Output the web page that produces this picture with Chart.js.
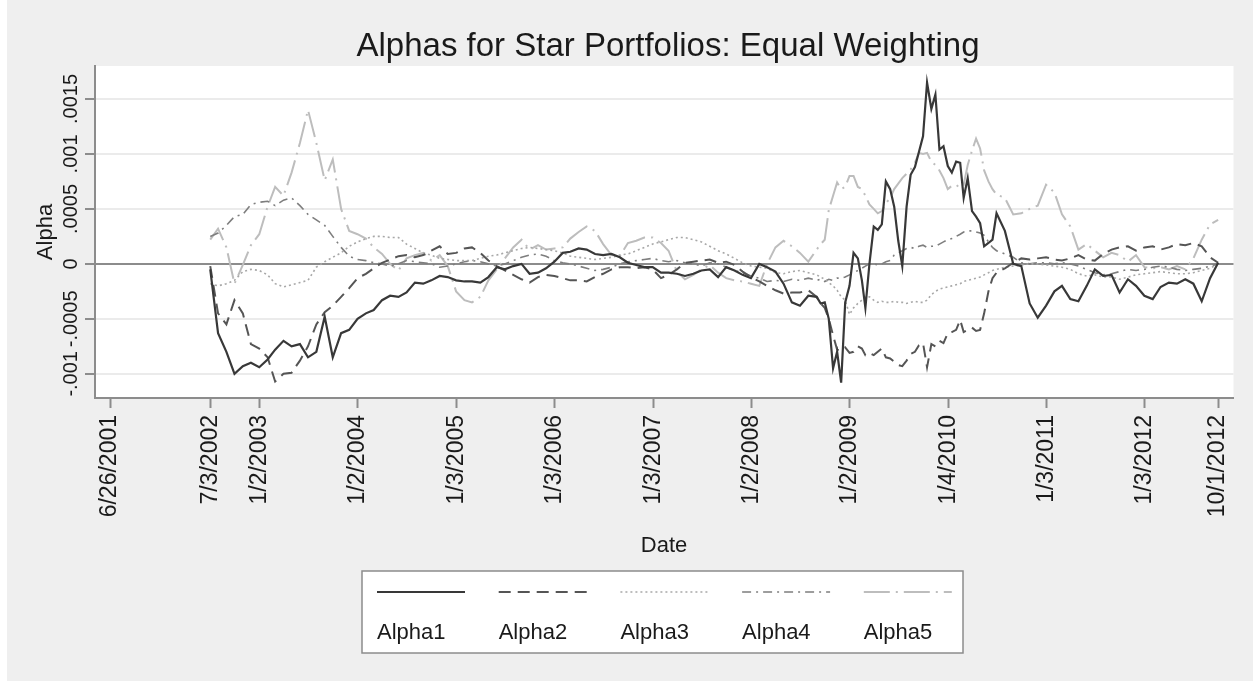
<!DOCTYPE html>
<html>
<head>
<meta charset="utf-8">
<title>Alphas for Star Portfolios: Equal Weighting</title>
<script src="https://cdn.jsdelivr.net/npm/chart.js@4.4.1/dist/chart.umd.min.js"></script>
<style>
  html, body { margin: 0; padding: 0; background: #fff; }
  #wrap { width: 1253px; height: 681px; }
</style>
</head>
<body>
<div id="wrap"><canvas id="alphaChart" width="1253" height="681"></canvas></div>
<script>
// observation dates (monthly, twice a month around the 2008-2010 swings)
const dates = [
  '2002-07-03','2002-08-01','2002-09-01','2002-10-01','2002-11-01','2002-12-01',
  '2003-01-01','2003-02-01','2003-03-01','2003-04-01','2003-05-01','2003-06-01','2003-07-01','2003-08-01','2003-09-01','2003-10-01','2003-11-01','2003-12-01',
  '2004-01-01','2004-02-01','2004-03-01','2004-04-01','2004-05-01','2004-06-01','2004-07-01','2004-08-01','2004-09-01','2004-10-01','2004-11-01','2004-12-01',
  '2005-01-01','2005-02-01','2005-03-01','2005-04-01','2005-05-01','2005-06-01','2005-07-01','2005-08-01','2005-09-01','2005-10-01','2005-11-01','2005-12-01',
  '2006-01-01','2006-02-01','2006-03-01','2006-04-01','2006-05-01','2006-06-01','2006-07-01','2006-08-01','2006-09-01','2006-10-01','2006-11-01','2006-12-01',
  '2007-01-01','2007-02-01','2007-03-01','2007-04-01','2007-05-01','2007-06-01','2007-07-01','2007-08-01','2007-09-01','2007-10-01','2007-11-01','2007-12-01',
  '2008-01-01','2008-02-01','2008-03-01','2008-04-01','2008-05-01','2008-06-01','2008-07-01','2008-08-01',
  '2008-09-01','2008-09-16','2008-10-01','2008-10-16','2008-11-01','2008-11-16','2008-12-01','2008-12-16',
  '2009-01-01','2009-01-16','2009-02-01','2009-02-16','2009-03-01','2009-03-16','2009-04-01','2009-04-16','2009-05-01','2009-05-16','2009-06-01','2009-06-16',
  '2009-07-01','2009-07-16','2009-08-01','2009-08-16','2009-09-01','2009-09-16','2009-10-01','2009-10-16','2009-11-01','2009-11-16','2009-12-01','2009-12-16',
  '2010-01-01','2010-01-16','2010-02-01','2010-02-16','2010-03-01','2010-03-16','2010-04-01','2010-04-16','2010-05-01','2010-05-16','2010-06-01','2010-06-16',
  '2010-07-01','2010-08-01','2010-09-01','2010-10-01','2010-11-01','2010-12-01',
  '2011-01-01','2011-02-01','2011-03-01','2011-04-01','2011-05-01','2011-06-01','2011-07-01','2011-08-01','2011-09-01','2011-10-01','2011-11-01','2011-12-01',
  '2012-01-01','2012-02-01','2012-03-01','2012-04-01','2012-05-01','2012-06-01','2012-07-01','2012-08-01','2012-09-01','2012-10-01'
];

// alphas, in units of 0.0001
const UNIT = 1e-4;
const alpha1 = [
  -0.5, -6.3, -8.0, -10.0, -9.3, -9.0,
  -9.4, -8.7, -7.8, -7.0, -7.5, -7.3, -8.5, -8.0, -4.8, -8.5, -6.3, -6.0,
  -5.0, -4.5, -4.2, -3.3, -2.9, -3.0, -2.6, -1.7, -1.8, -1.5, -1.1, -1.2,
  -1.5, -1.6, -1.6, -1.7, -1.2, -0.3, -0.5, -0.2, 0.0, -0.9, -0.8, -0.4,
  0.2, 1.0, 1.1, 1.4, 1.3, 0.9, 0.8, 0.9, 0.6, 0.1, -0.1, -0.3,
  -0.3, -0.8, -0.8, -0.9, -1.1, -0.9, -0.6, -0.5, -1.2, -0.3, -0.6, -1.0,
  -1.3, 0.0, -0.3, -0.7, -1.8, -3.5, -3.8, -2.9,
  -3.0, -3.6, -3.5, -5.0, -9.5, -8.0, -10.8, -3.5,
  -2.0, 1.0, 0.5, -1.5, -4.0, 0.0, 3.4, 3.1, 3.6, 7.5, 6.8, 5.2,
  2.1, -0.2, 5.2, 8.1, 8.8, 10.2, 11.6, 16.5, 14.1, 15.4, 10.4, 10.7,
  8.9, 8.3, 9.3, 9.2, 6.0, 7.8, 4.8, 4.3, 3.7, 1.6, 1.9, 2.2,
  4.6, 3.0, 0.0, -0.2, -3.6, -4.9,
  -3.8, -2.5, -2.0, -3.2, -3.4, -2.0, -0.5, -1.1, -1.0, -2.6, -1.4, -2.0,
  -2.9, -3.2, -2.1, -1.7, -1.8, -1.4, -1.8, -3.4, -1.3, 0.1
];
const alpha2 = [
  -0.2, -4.5, -5.5, -3.3, -4.5, -7.3,
  -7.7, -8.5, -10.7, -10.0, -9.9, -8.8, -7.5, -5.5, -4.4, -3.8, -3.0, -2.2,
  -1.3, -0.9, -0.4, 0.1, 0.4, 0.7, 0.8, 0.6, 0.8, 1.2, 1.6, 0.9,
  1.0, 1.4, 1.5, 1.0, 0.3, -0.2, -0.6, -1.0, -1.4, -1.7, -1.2, -1.0,
  -1.1, -1.3, -1.5, -1.5, -1.6, -1.2, -0.9, -0.5, -0.3, -0.3, -0.4, -0.3,
  -0.5, -1.3, -1.0, -0.5, 0.1, 0.2, 0.3, 0.4, 0.1, 0.2, -0.1, -0.7,
  -1.2, -1.6, -2.0, -2.4, -2.7, -2.6, -2.6, -2.4,
  -3.0, -3.6, -4.0, -5.0, -6.5, -7.8, -7.9, -7.6,
  -8.1, -8.0, -7.5, -7.7, -8.3, -8.1, -8.3, -8.0, -7.7, -8.5, -8.6, -8.9,
  -9.2, -9.3, -8.8, -8.2, -8.0, -7.4, -7.2, -9.4, -7.3, -7.5, -7.0, -7.2,
  -6.3, -6.2, -6.0, -5.1, -6.2, -6.0, -5.8, -6.1, -6.0, -4.5, -2.5, -1.3,
  -0.8, -0.4, 0.1, 0.5, 0.4, 0.5,
  0.6, 0.4, 0.3, 0.5, 0.8, 0.4, 0.3, 0.9, 1.3, 1.5, 1.6, 1.2,
  1.5, 1.6, 1.3, 1.5, 1.8, 1.7, 1.9, 1.6, 0.6, 0.1
];
const alpha3 = [
  -1.8, -2.0, -1.8, -1.5, -0.7, -0.5,
  -0.6, -1.0, -1.8, -2.1, -1.9, -1.7, -1.5, -0.3, 0.2, 0.6, 1.0, 1.6,
  2.0, 2.3, 2.5, 2.5, 2.4, 2.4, 1.8, 1.4, 1.0, 0.8, 0.5, 0.4,
  0.3, 0.3, 0.3, 0.5, 0.7, 0.8, 1.0, 1.2, 1.4, 1.5, 1.4, 1.3,
  1.2, 1.0, 0.7, 0.6, 0.5, 0.4, 0.5, 0.6, 0.8, 0.9, 1.2, 1.5,
  1.8, 2.0, 2.2, 2.4, 2.4, 2.2, 2.0, 1.6, 1.2, 0.9, 0.5, 0.1,
  -0.2, -0.3, -0.4, -0.8, -0.9, -0.7, -0.6, -0.8,
  -1.0, -1.2, -1.4, -1.7, -2.0, -2.4, -3.0, -3.3,
  -4.6, -4.0, -3.6, -3.3, -3.0, -3.0, -3.3, -3.5, -3.4, -3.5, -3.5, -3.4,
  -3.5, -3.5, -3.6, -3.5, -3.4, -3.5, -3.5, -3.3, -2.8, -2.5, -2.3, -2.2,
  -2.1, -2.0, -1.9, -1.8, -1.6, -1.5, -1.4, -1.3, -1.2, -1.0, -0.8, -0.6,
  -0.5, -0.3, -0.2, -0.1, 0.0, 0.0,
  -0.1, -0.2, -0.3, -0.5, -0.9, -1.1, -1.0, -1.2, -1.2, -1.4, -1.2, -1.0,
  -0.9, -0.8, -0.7, -0.8, -0.9, -0.9, -0.8, -0.6, -0.4, 0.0
];
const alpha4 = [
  2.5, 2.8, 3.5, 4.3, 4.5, 5.4,
  5.6, 5.7, 5.3, 5.8, 6.0, 5.3, 4.5, 4.0, 3.5, 2.5, 1.5, 0.7,
  0.4, 0.3, 0.1, 0.0, -0.2, 0.0, 0.3, 0.2, 0.1, 0.0, -0.3, -0.2,
  0.0, 0.2, 0.3, 0.2, 0.0, -0.2, 0.0, 0.3, 0.6, 0.8, 0.9, 0.7,
  0.3, 0.1, 0.0, -0.2, -0.4, -0.6, -0.5, -0.3, 0.0, 0.2, 0.3, 0.4,
  0.5, 0.3, 0.2, 0.3, 0.1, 0.0, -0.2, 0.1, 0.0, -0.3, -0.6, -0.8,
  -1.1, -1.3, -1.6, -1.5, -1.6, -1.4, -1.5, -1.3,
  -1.5, -1.4, -1.6, -1.4, -1.5, -1.3, -1.3, -1.2,
  -1.0, -0.8, -0.6, -0.4, -0.2, 0.0, 0.0, -0.1, 0.0, 0.2, 0.3, 0.8,
  1.0, 1.2, 1.4, 1.5, 1.4, 1.6, 1.7, 1.5, 1.6, 1.6, 1.8, 2.0,
  2.2, 2.3, 2.5, 2.7, 2.9, 3.0, 3.0, 2.9, 2.8, 2.6, 2.0, 1.5,
  1.2, 0.9, 0.6, 0.1, 0.0, 0.1,
  0.1, 0.0, 0.1, 0.0, -0.2, -0.5, -0.8, -1.0, -0.9, -0.7, -0.5, -0.6,
  -0.5, -0.3, -0.2, -0.3, -0.5, -0.6, -0.5, -0.4, -0.2, 0.0
];
const alpha5 = [
  2.2, 3.2, 1.5, -1.8, -0.1, 1.7,
  2.7, 5.2, 7.0, 6.2, 8.3, 11.0, 14.0, 11.0, 7.6, 9.5, 5.0, 3.0,
  2.7, 2.3, 1.5, 0.9, 0.0, -0.6, 0.5, 0.8, 1.0, 0.3, 0.8, -0.2,
  -2.5, -3.3, -3.5, -3.0, -1.5, -0.5, 0.5, 1.5, 2.2, 1.3, 1.7, 1.3,
  1.4, 1.5, 2.3, 2.9, 3.4, 3.0, 1.8, 0.8, 0.7, 1.9, 2.1, 2.4,
  2.4, 1.9, 1.2, -0.7, -1.4, -1.0, -0.5, -0.1, -0.8, -1.3, -1.5, -1.6,
  -1.8, -2.0, 0.0, 1.5, 2.1, 1.6, 1.0, 0.2,
  1.3, 1.8, 2.2, 4.9, 6.2, 7.4, 6.8, 7.0,
  8.0, 8.0, 7.0, 6.8, 6.2, 5.4, 5.0, 4.6, 4.8, 5.5, 6.0, 6.8,
  7.3, 7.8, 8.2, 8.6, 9.2, 10.1, 10.0, 10.1, 9.3, 9.0, 8.5, 7.8,
  6.8, 7.1, 7.0, 7.3, 7.2, 9.0, 10.3, 11.4, 10.5, 8.5, 7.5, 6.8,
  6.3, 6.0, 4.5, 4.6, 5.0, 5.3,
  7.2, 6.5, 4.5, 3.4, 1.3, 1.8, 1.2, 0.6, 1.0, 0.8, 0.2, 0.8,
  -0.3, -0.4, -0.3, -0.5, -0.2, -0.5, 0.5, 2.2, 3.6, 4.0
];

const seriesNames = ['Alpha1', 'Alpha2', 'Alpha3', 'Alpha4', 'Alpha5'];

// axis ticks
const xTickDates = ['2001-06-26','2002-07-03','2003-01-02','2004-01-02','2005-01-03','2006-01-03',
  '2007-01-03','2008-01-02','2009-01-02','2010-01-04','2011-01-03','2012-01-03','2012-10-01'];
const xTickLabels = ['6/26/2001','7/3/2002','1/2/2003','1/2/2004','1/3/2005','1/3/2006',
  '1/3/2007','1/2/2008','1/2/2009','1/4/2010','1/3/2011','1/3/2012','10/1/2012'];
const yTickValues = [-0.001, -0.0005, 0, 0.0005, 0.001, 0.0015];
const yTickLabels = ['-.001', '-.0005', '0', '.0005', '.001', '.0015'];

const FONT = '"Liberation Sans", Arial, sans-serif';
const INK = '#1a1a1a';

function dayNum(s) {
  const p = s.split('-').map(Number);
  return Date.UTC(p[0], p[1] - 1, p[2]) / 86400000;
}

[alpha1, alpha2, alpha3, alpha4, alpha5].forEach((a, i) => {
  if (a.length !== dates.length) console.warn(seriesNames[i] + ' has ' + a.length + ' values, expected ' + dates.length);
});

const xs = dates.map(dayNum);
const toPoints = vals => vals.map((v, i) => ({ x: xs[i], y: v * UNIT }));

const styles = [
  { color: '#383838', width: 2.2, dash: [] },
  { color: '#555555', width: 2, dash: [12, 7] },
  { color: '#a8a8a8', width: 1.6, dash: [2, 3] },
  { color: '#7e7e7e', width: 1.6, dash: [9, 5, 2, 5] },
  { color: '#bdbdbd', width: 2, dash: [26, 6, 2, 6] }
];
const seriesData = [alpha1, alpha2, alpha3, alpha4, alpha5];

const datasets = seriesData.map((vals, i) => ({
  label: seriesNames[i],
  data: toPoints(vals),
  borderColor: styles[i].color,
  borderWidth: styles[i].width,
  borderDash: styles[i].dash,
  pointRadius: 0,
  tension: 0,
  fill: false
}));

// background, rotated y labels, titles and the boxed legend
const stataLook = {
  id: 'stataLook',
  beforeDraw(chart) {
    const { ctx, chartArea: a } = chart;
    ctx.save();
    ctx.fillStyle = '#ffffff';
    ctx.fillRect(0, 0, chart.width, chart.height);
    ctx.fillStyle = '#efefef';
    ctx.fillRect(7, 0, chart.width - 7, chart.height);
    ctx.fillStyle = '#ffffff';
    ctx.fillRect(a.left, a.top, a.right - a.left, a.bottom - a.top);
    ctx.restore();
  },
  afterDraw(chart) {
    const { ctx } = chart;
    const ys = chart.scales.y;
    ctx.save();
    ctx.fillStyle = INK;

    // y tick labels, turned like the original
    ctx.font = '20px ' + FONT;
    ctx.textAlign = 'center';
    ctx.textBaseline = 'middle';
    yTickValues.forEach((v, i) => {
      ctx.save();
      ctx.translate(71, ys.getPixelForValue(v));
      ctx.rotate(-Math.PI / 2);
      ctx.fillText(yTickLabels[i], 0, 0);
      ctx.restore();
    });

    // axis titles
    ctx.font = '22px ' + FONT;
    ctx.save();
    ctx.translate(46, 232);
    ctx.rotate(-Math.PI / 2);
    ctx.fillText('Alpha', 0, 0);
    ctx.restore();
    ctx.textBaseline = 'alphabetic';
    ctx.fillText('Date', 664, 552);

    // main title
    ctx.font = '33px ' + FONT;
    ctx.fillText('Alphas for Star Portfolios: Equal Weighting', 668, 56);

    // legend box
    const box = { x: 362, y: 571, w: 601, h: 82 };
    ctx.fillStyle = '#ffffff';
    ctx.fillRect(box.x, box.y, box.w, box.h);
    ctx.strokeStyle = '#8c8c8c';
    ctx.lineWidth = 1.5;
    ctx.strokeRect(box.x, box.y, box.w, box.h);

    ctx.font = '22px ' + FONT;
    ctx.textAlign = 'left';
    chart.data.datasets.forEach((ds, i) => {
      const x0 = 377 + i * 121.7;
      ctx.save();
      ctx.strokeStyle = ds.borderColor;
      ctx.lineWidth = ds.borderWidth;
      ctx.setLineDash(ds.borderDash);
      ctx.beginPath();
      ctx.moveTo(x0, 592);
      ctx.lineTo(x0 + 88, 592);
      ctx.stroke();
      ctx.restore();
      ctx.fillStyle = INK;
      ctx.fillText(ds.label, x0, 639);
    });
    ctx.restore();
  }
};

const ctx = document.getElementById('alphaChart').getContext('2d');

new Chart(ctx, {
  type: 'line',
  data: { datasets: datasets },
  options: {
    responsive: false,
    animation: false,
    layout: { padding: { top: 66, right: 19, left: 0, bottom: 0 } },
    plugins: {
      legend: { display: false },
      tooltip: { enabled: false },
      title: { display: false }
    },
    scales: {
      x: {
        type: 'linear',
        min: dayNum('2001-05-01'),
        max: dayNum('2012-11-27'),
        afterBuildTicks: s => { s.ticks = xTickDates.map(d => ({ value: dayNum(d) })); },
        afterFit: s => { s.height = 283; },
        grid: { drawOnChartArea: false, drawTicks: true, tickLength: 10, tickColor: '#8c8c8c', tickWidth: 2 },
        border: { display: true, color: '#8c8c8c', width: 2 },
        ticks: {
          autoSkip: false,
          minRotation: 90,
          maxRotation: 90,
          padding: 7,
          color: INK,
          font: { family: FONT, size: 23 },
          callback: (v, i) => xTickLabels[i]
        }
      },
      y: {
        type: 'linear',
        min: -0.00122,
        max: 0.0018,
        afterBuildTicks: s => { s.ticks = yTickValues.map(v => ({ value: v })); },
        afterFit: s => { s.width = 95; },
        grid: {
          color: c => (c.tick && c.tick.value === 0 ? '#8c8c8c' : '#ebebeb'),
          lineWidth: 2,
          tickLength: 10,
          tickColor: '#8c8c8c',
          tickWidth: 2
        },
        border: { display: true, color: '#8c8c8c', width: 2 },
        ticks: { display: false }
      }
    }
  },
  plugins: [stataLook]
});
</script>
</body>
</html>
